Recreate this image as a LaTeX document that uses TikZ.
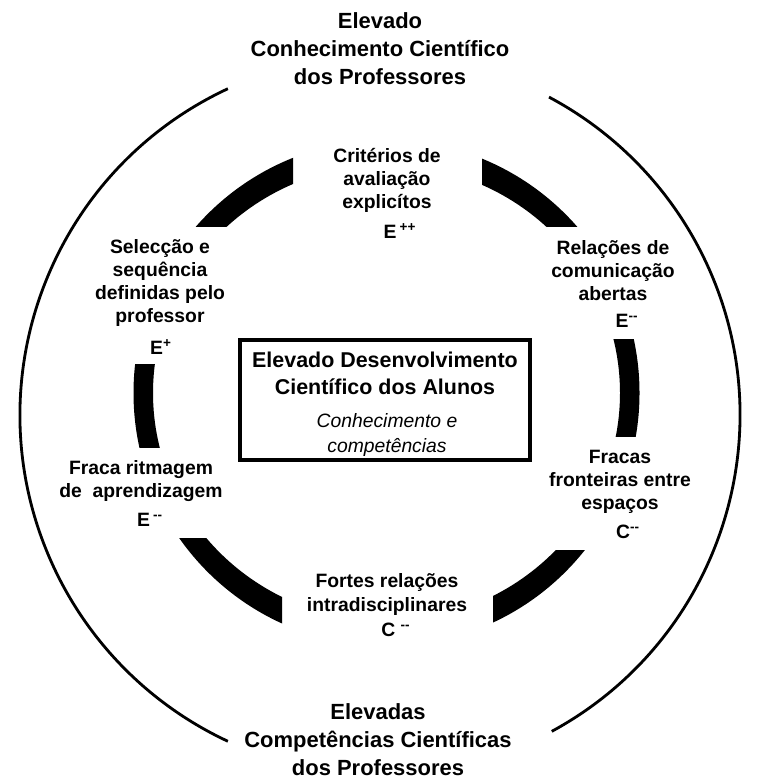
\documentclass[tikz,border=0pt]{standalone}
\usepackage{fontspec}
\setmainfont{Liberation Sans}
\begin{document}
\begin{tikzpicture}[x=0.02cm, y=0.02cm,
    lbl/.style={align=center, inner sep=0pt, font=\fontsize{11}{13.1}\selectfont\bfseries},
    ttl/.style={align=center, inner sep=0pt, font=\fontsize{12.5}{15.9}\selectfont\bfseries},
    sub/.style={align=center, inner sep=0pt, font=\fontsize{11}{13.7}\selectfont\itshape}
  ]
  \useasboundingbox (0,0) rectangle (757,783);
  \draw[line width=1.6pt] (380,368) ++(115:360) arc (115:245:360);
  \draw[line width=1.6pt] (380,368) ++(-61.5:360) arc (-61.5:62:360);
  \foreach \a/\b/\c/\d in {100/556/293/700, 482/556/700/700, 500/346/700/443,
                           493/100/700/232, 100/100/282/244, 100/335/250/418}{
    \begin{scope}
      \clip (\a,\b) rectangle (\c,\d);
      \fill[even odd rule] (386.5,390) ellipse [x radius=253, y radius=253]
                           (386.5,390) ellipse [x radius=233.5, y radius=228];
    \end{scope}
  }
  \node[ttl] (top) at (380,734) {Elevado\\Conhecimento Científico\\dos Professores};
  \node[ttl] (bot) at (378,43) {Elevadas\\Competências Científicas\\dos Professores};
  \node[draw, line width=1.8pt, minimum width=5.8cm, minimum height=2.4cm] (box) at (385,383) {};
  \node[ttl, font=\fontsize{12.2}{15.4}\selectfont\bfseries] (dev) at (385,409.5) {Elevado Desenvolvimento\\Científico dos Alunos};
  \node[sub] (comp) at (387,348) {Conhecimento e\\competências};
  \node[lbl] (crit) at (387,603) {Critérios de\\avaliação\\explicítos};
  \node[lbl] (crit-e) at (400,552) {E\,\textsuperscript{++}};
  \node[lbl] (sel) at (160,500) {Selecção e\\sequência\\definidas pelo\\professor};
  \node[lbl] (sel-e) at (161,436) {E\textsuperscript{+}};
  \node[lbl] (rel) at (613,512) {Relações de\\comunicação\\abertas};
  \node[lbl] (rel-e) at (627,462) {E\textsuperscript{-{}-}};
  \node[lbl] (fra) at (620,301) {Fracas\\fronteiras entre\\espaços};
  \node[lbl] (fra-c) at (628,251) {C\textsuperscript{-{}-}};
  \node[lbl] (rit) at (141,301.5) {Fraca ritmagem\\de\ \ aprendizagem};
  \node[lbl] (rit-e) at (150,263) {E\,\textsuperscript{-{}-}};
  \node[lbl] (fort) at (387,188.5) {Fortes relações\\intradisciplinares};
  \node[lbl] (fort-c) at (396,153) {C\ \textsuperscript{-{}-}};
\end{tikzpicture}
\end{document}
